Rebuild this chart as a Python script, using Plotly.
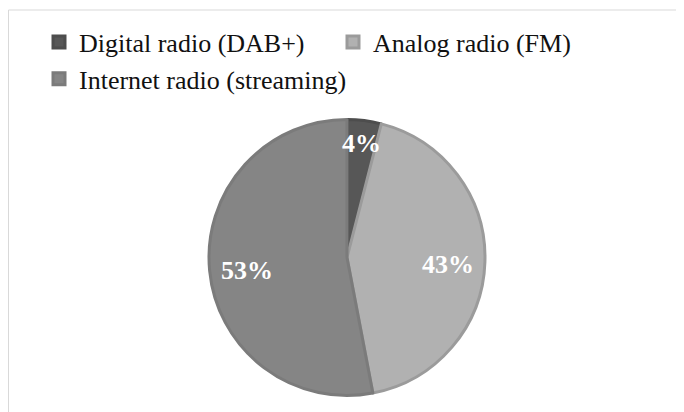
import math
import plotly.graph_objects as go

labels = ["Digital radio (DAB+)", "Analog radio (FM)", "Internet radio (streaming)"]
values = [4, 43, 53]
fill_colors = ["#575757", "#b1b1b1", "#858585"]
line_colors = ["#4d4d4d", "#9b9b9b", "#7b7b7b"]
label_radius = [0.86, 0.73, 0.73]   # fraction of pie radius where each label sits

W, H = 676, 404          # page body has an 8px margin
cx, cy, r = 339, 249.5, 138

fig = go.Figure(go.Pie(
    labels=labels,
    values=values,
    sort=False,
    direction="clockwise",
    rotation=0,
    marker=dict(colors=fill_colors, line=dict(color=line_colors, width=3)),
    textinfo="none",
    hoverinfo="label+percent",
    domain=dict(x=[(cx - r) / W, (cx + r) / W], y=[1 - (cy + r) / H, 1 - (cy - r) / H]),
))

# percentage labels placed along each slice's mid-angle
total = sum(values)
cum = 0
annotations = []
for v, k in zip(values, label_radius):
    mid = (cum + v / 2) / total * 2 * math.pi
    cum += v
    px = cx + k * r * math.sin(mid)
    py = cy - k * r * math.cos(mid)
    annotations.append(dict(
        x=px / W, y=1 - py / H, xref="paper", yref="paper",
        text=f"{v / total:.0%}", showarrow=False,
        xanchor="center", yanchor="middle", yshift=-4,
        font=dict(family="Liberation Serif", size=26, color="white", weight="bold"),
    ))

fig.update_layout(
    width=W, height=H,
    margin=dict(l=0, r=0, t=0, b=0),
    paper_bgcolor="white",
    plot_bgcolor="white",
    showlegend=True,
    annotations=annotations,
    legend=dict(
        orientation="h",
        x=31 / W, y=1 - 10.5 / H,
        xanchor="left", yanchor="top",
        font=dict(family="Liberation Serif", size=26, color="#111111"),
        entrywidth=249, entrywidthmode="pixels",
        traceorder="normal",
        bgcolor="rgba(0,0,0,0)",
    ),
    shapes=[dict(
        type="rect", xref="paper", yref="paper",
        x0=0.5 / W, x1=1.02, y0=-0.02, y1=1 - 2 / H,
        line=dict(color="#d9d9d9", width=1),
        fillcolor="rgba(0,0,0,0)", layer="below",
    )],
)

fig.write_html("out.html")
